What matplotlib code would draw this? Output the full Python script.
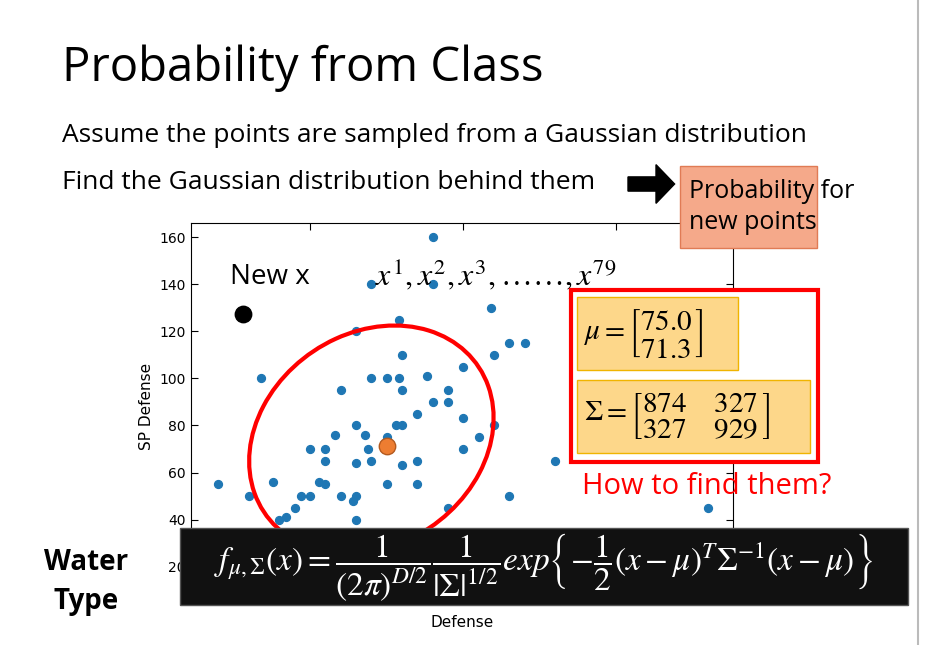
import numpy as np
import matplotlib.pyplot as plt
from matplotlib.patches import Ellipse, Rectangle, FancyArrow

plt.rcParams['mathtext.fontset'] = 'stix'

# Water type pokemon (Defense, SP Defense)
defense = [90, 70, 90, 109, 79, 65, 115, 120, 80, 110, 34, 70, 75, 79, 88, 100,
           60, 80, 95, 90, 95, 85, 100, 65, 78, 80, 110, 58, 68, 75, 105, 50,
           55, 69, 100, 55, 65, 70, 80, 85, 130, 20, 38, 53, 55, 75, 85, 30,
           47, 50, 60, 65, 64, 115, 45, 95, 180, 40, 42, 65]
sp_defense = [160, 140, 140, 130, 125, 120, 115, 115, 110, 110, 100, 100, 100, 100, 101, 105,
              95, 95, 95, 90, 90, 85, 83, 80, 80, 80, 80, 76, 76, 75, 75, 70,
              70, 70, 70, 65, 64, 65, 63, 65, 65, 55, 56, 56, 55, 55, 55, 50,
              50, 50, 50, 50, 48, 50, 45, 45, 45, 40, 41, 40]
mu = [75.0, 71.3]
cov = [[874, 327], [327, 929]]
new_x = [28, 127.5]

fig = plt.figure(figsize=(9.3, 6.45), dpi=100)
fig.patch.set_facecolor('white')

ax = fig.add_axes([0.205, 0.085, 0.583, 0.569])
ax.scatter(defense, sp_defense, s=32, color='#1f77b4', zorder=2)
ax.scatter([mu[0]], [mu[1]], s=140, color='#ed7d31', edgecolor='#b35a1f', zorder=4)
ax.scatter([new_x[0]], [new_x[1]], s=140, color='black', zorder=4)

# hand-placed ellipse roughly following the covariance
ax.add_patch(Ellipse((70, 74), 76, 100, angle=-22, fill=False,
                     edgecolor='red', lw=3, zorder=3))

ax.set_xlim(11, 188)
ax.set_ylim(10, 166)
ax.set_xticks([50, 100, 150])
ax.set_yticks([20, 40, 60, 80, 100, 120, 140, 160])
ax.tick_params(direction='in', top=True, right=True, labelsize=10, length=5)
ax.set_xlabel('Defense', fontsize=11)
ax.set_ylabel('SP Defense', fontsize=11)
ax.text(24, 140, 'New x', fontsize=20, family='Open Sans')
ax.text(0.34, 0.83, r'$x^1, x^2, x^3, \ldots\ldots, x^{79}$', transform=ax.transAxes,
        fontsize=23)

# slide texts
fig.text(62 / 930, 1 - 68 / 645, 'Probability from Class', fontsize=34, family='Open Sans',
         va='center')
fig.text(62 / 930, 1 - 136 / 645, 'Assume the points are sampled from a Gaussian distribution',
         fontsize=19, family='Open Sans', va='center')
fig.text(62 / 930, 1 - 183 / 645, 'Find the Gaussian distribution behind them',
         fontsize=19, family='Open Sans', va='center')
fig.patches.append(FancyArrow(628 / 930, 1 - 184 / 645, 28 / 930, 0, width=0.022,
                              head_width=0.06, head_length=0.02, color='black',
                              transform=fig.transFigure, length_includes_head=False))
fig.patches.append(Rectangle((680 / 930, 1 - 248 / 645), 137 / 930, 82 / 645,
                             facecolor='#f5a98a', edgecolor='#e07b55',
                             transform=fig.transFigure, zorder=5))
fig.text(689 / 930, 1 - 207 / 645, 'Probability for\nnew points', fontsize=18,
         family='Open Sans', va='center', zorder=6, linespacing=1.3)

fig.patches.append(Rectangle((571 / 930, 1 - 462 / 645), 247 / 930, 172 / 645,
                             facecolor='white', edgecolor='red', lw=3,
                             transform=fig.transFigure, zorder=5))
fig.patches.append(Rectangle((577 / 930, 1 - 370 / 645), 161 / 930, 73 / 645,
                             facecolor='#fdd78a', edgecolor='#f0b400',
                             transform=fig.transFigure, zorder=6))
fig.patches.append(Rectangle((577 / 930, 1 - 453 / 645), 233 / 930, 73 / 645,
                             facecolor='#fdd78a', edgecolor='#f0b400',
                             transform=fig.transFigure, zorder=6))
fig.text(584 / 930, 1 - 334 / 645,
         r'$\mu = \left[\genfrac{}{}{0}{0}{%.1f}{%.1f}\right]$' % (mu[0], mu[1]),
         fontsize=21, va='center', zorder=7)
fig.text(584 / 930, 1 - 417 / 645,
         r'$\Sigma = \left[\genfrac{}{}{0}{0}{%d\quad\ %d}{%d\quad\ %d}\right]$'
         % (cov[0][0], cov[0][1], cov[1][0], cov[1][1]),
         fontsize=21, va='center', zorder=7)
fig.text(582 / 930, 1 - 487 / 645, 'How to find them?', fontsize=21, color='red',
         family='Open Sans', va='center', zorder=7)

fig.patches.append(Rectangle((180 / 930, 1 - 605 / 645), 728 / 930, 77 / 645,
                             facecolor='#111111', edgecolor='#555555',
                             transform=fig.transFigure, zorder=8))
fig.text(544 / 930, 1 - 567 / 645,
         r'$f_{\mu,\Sigma}(x) = \dfrac{1}{(2\pi)^{D/2}}\dfrac{1}{|\Sigma|^{1/2}}exp\left\{-\dfrac{1}{2}(x-\mu)^T\Sigma^{-1}(x-\mu)\right\}$',
         fontsize=24, color='white', ha='center', va='center', zorder=9)
fig.text(86 / 930, 1 - 582 / 645, 'Water\nType', fontsize=20, fontweight='bold',
         family='Open Sans', ha='center', va='center', linespacing=1.5)

fig.lines.append(plt.Line2D([918 / 930, 918 / 930], [0, 1], color='#bbbbbb', lw=1.5,
                            transform=fig.transFigure))

fig.savefig('out.png', dpi=100)
